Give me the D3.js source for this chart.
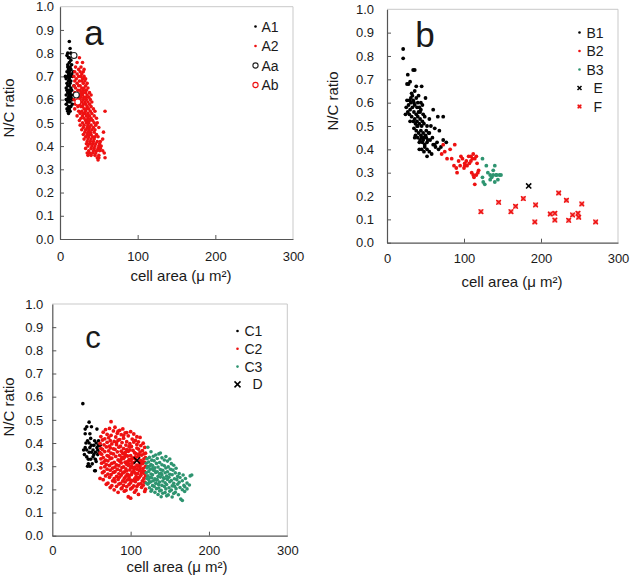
<!DOCTYPE html>
<html><head><meta charset="utf-8">
<script src="https://cdn.jsdelivr.net/npm/d3@7"></script>
<style>body{margin:0;background:#fff}svg text{font-family:"Liberation Sans",Arial,sans-serif;fill:#1a1a1a}</style>
</head><body><svg id="c" width="630" height="577"></svg>
<script>
const yTicks=[0,0.1,0.2,0.3,0.4,0.5,0.6,0.7,0.8,0.9,1.0];
const xTicks=[0,100,200,300];
const colBlack="#000000", colRed="#ee1111", colGreen="#2e9470";

// Panel a
const A1=[[12,0.85],[10,0.80],[13,0.82],[9,0.79],[11,0.78],[14,0.77],[12,0.76],[15,0.75],[10,0.75],[13,0.74],[11,0.73],[14,0.73],[12,0.72],[9,0.72],[15,0.71],[11,0.71],[13,0.70],[10,0.70],[8,0.69],[12,0.69],[14,0.68],[11,0.68],[9,0.67],[13,0.67],[10,0.66],[12,0.66],[8,0.65],[14,0.65],[11,0.64],[9,0.64],[13,0.63],[10,0.63],[12,0.62],[15,0.62],[8,0.62],[11,0.61],[14,0.61],[9,0.60],[12,0.60],[10,0.59],[13,0.59],[16,0.58],[8,0.58],[11,0.57],[14,0.57],[9,0.56],[12,0.56],[10,0.55],[13,0.55],[11,0.54],[15,0.64],[16,0.70],[17,0.72],[7,0.70],[8,0.60],[18,0.66],[16,0.60],[10,0.74],[12,0.78],[14,0.80]];
const A2=[[25,0.78],[22,0.76],[29,0.76],[20,0.74],[27,0.74],[24,0.73],[31,0.73],[19,0.72],[26,0.72],[30,0.72],[22,0.71],[28,0.71],[18,0.70],[24,0.70],[31,0.70],[27,0.70],[21,0.69],[29,0.69],[33,0.69],[19,0.68],[25,0.68],[32,0.68],[28,0.68],[22,0.67],[30,0.67],[35,0.67],[18,0.66],[26,0.66],[33,0.66],[24,0.66],[20,0.65],[28,0.65],[36,0.65],[31,0.65],[23,0.64],[30,0.64],[34,0.64],[26,0.64],[19,0.63],[27,0.63],[33,0.63],[38,0.63],[30,0.63],[21,0.62],[25,0.62],[35,0.62],[29,0.62],[40,0.62],[23,0.61],[31,0.61],[37,0.61],[27,0.61],[33,0.61],[18,0.60],[26,0.60],[34,0.60],[30,0.60],[39,0.60],[22,0.59],[28,0.59],[36,0.59],[32,0.59],[41,0.59],[20,0.58],[25,0.58],[33,0.58],[38,0.58],[30,0.58],[23,0.57],[29,0.57],[35,0.57],[40,0.57],[27,0.57],[19,0.56],[31,0.56],[37,0.56],[34,0.56],[43,0.56],[24,0.55],[28,0.55],[33,0.55],[39,0.55],[45,0.55],[58,0.55],[26,0.54],[30,0.54],[36,0.54],[41,0.54],[32,0.54],[22,0.53],[29,0.53],[34,0.53],[38,0.53],[44,0.53],[27,0.52],[31,0.52],[36,0.52],[40,0.52],[47,0.52],[25,0.51],[33,0.51],[38,0.51],[42,0.51],[35,0.51],[29,0.50],[34,0.50],[37,0.50],[44,0.50],[48,0.50],[26,0.49],[31,0.49],[36,0.49],[40,0.49],[46,0.49],[30,0.48],[35,0.48],[38,0.48],[43,0.48],[50,0.48],[28,0.47],[33,0.47],[37,0.47],[41,0.47],[45,0.47],[32,0.46],[36,0.46],[39,0.46],[44,0.46],[56,0.46],[30,0.45],[35,0.45],[40,0.45],[47,0.45],[38,0.45],[33,0.44],[37,0.44],[42,0.44],[45,0.44],[49,0.44],[31,0.43],[36,0.43],[40,0.43],[44,0.43],[55,0.43],[35,0.42],[39,0.42],[43,0.42],[48,0.42],[52,0.42],[34,0.41],[38,0.41],[42,0.41],[46,0.41],[51,0.41],[36,0.40],[41,0.40],[45,0.40],[50,0.40],[53,0.40],[33,0.39],[40,0.39],[44,0.39],[49,0.39],[52,0.39],[37,0.38],[43,0.38],[47,0.38],[51,0.38],[55,0.38],[35,0.37],[38,0.37],[42,0.37],[46,0.37],[57,0.37],[36,0.36],[40,0.36],[45,0.36],[50,0.36],[48,0.35],[50,0.35],[58,0.35],[49,0.34]];
const Aa=[[18,0.79],[21,0.62]];
const Ab=[[23,0.59]];

// Panel b
const B1=[[21,0.83],[21,0.79],[34,0.74],[36,0.74],[27,0.72],[30,0.69],[26,0.68],[28,0.68],[38,0.67],[45,0.67],[32,0.64],[36,0.65],[50,0.62],[26,0.61],[29,0.61],[31,0.60],[34,0.61],[38,0.62],[41,0.63],[44,0.60],[28,0.59],[33,0.58],[36,0.59],[39,0.58],[42,0.58],[46,0.59],[24,0.55],[27,0.56],[30,0.57],[35,0.56],[38,0.55],[41,0.56],[44,0.57],[47,0.55],[60,0.57],[29,0.55],[32,0.54],[36,0.53],[40,0.54],[43,0.53],[46,0.52],[49,0.54],[55,0.53],[73,0.54],[66,0.54],[34,0.52],[37,0.51],[40,0.50],[42,0.51],[45,0.50],[48,0.51],[52,0.50],[57,0.50],[62,0.49],[35,0.49],[38,0.48],[41,0.47],[44,0.48],[47,0.47],[51,0.48],[54,0.47],[68,0.48],[37,0.46],[40,0.45],[43,0.44],[45,0.45],[48,0.45],[50,0.46],[53,0.44],[36,0.45],[42,0.43],[46,0.43],[49,0.42],[52,0.43],[56,0.44],[59,0.45],[62,0.42],[65,0.43],[73,0.44],[77,0.43],[45,0.40],[49,0.41],[52,0.40],[55,0.39],[60,0.42],[67,0.40],[52,0.37],[58,0.38],[39,0.52],[43,0.56],[31,0.62],[25,0.58],[44,0.46],[47,0.44],[39,0.50],[33,0.63],[51,0.45],[55,0.47],[63,0.41],[48,0.39],[70,0.41],[35,0.60],[40,0.60],[30,0.52],[42,0.40]];
const B2=[[71,0.38],[73,0.42],[82,0.40],[88,0.42],[78,0.36],[84,0.36],[87,0.33],[91,0.30],[93,0.35],[96,0.37],[98,0.36],[101,0.34],[103,0.35],[106,0.37],[109,0.37],[111,0.36],[112,0.38],[116,0.37],[109,0.35],[101,0.33],[104,0.33],[110,0.30],[112,0.29],[116,0.29],[114,0.25],[119,0.31],[117,0.34],[95,0.33],[100,0.32],[90,0.32],[113,0.28],[107,0.34],[114,0.36],[118,0.30],[75,0.39]];
const B3=[[124,0.36],[129,0.33],[140,0.33],[138,0.31],[146,0.29],[142,0.29],[138,0.29],[134,0.29],[124,0.28],[125,0.26],[127,0.25],[134,0.27],[140,0.26],[136,0.28],[142,0.29],[131,0.30],[148,0.29],[144,0.27]];
const E=[[184,0.243]];
const F=[[122,0.133],[145,0.173],[161,0.133],[167,0.156],[177,0.189],[193,0.162],[192,0.089],[212,0.123],[218,0.126],[218,0.097],[223,0.213],[233,0.182],[236,0.096],[241,0.119],[248,0.126],[249,0.109],[253,0.166],[271,0.089]];

// Panel c
const C1=[[39,0.57],[47,0.49],[44,0.47],[50,0.47],[57,0.46],[42,0.46],[42,0.44],[48,0.44],[45,0.41],[49,0.42],[54,0.41],[59,0.41],[61,0.39],[40,0.37],[44,0.37],[52,0.37],[57,0.38],[47,0.36],[52,0.34],[46,0.33],[55,0.33],[45,0.30],[55,0.28],[46,0.31],[54,0.28],[58,0.35],[60,0.36],[50,0.39],[43,0.40],[56,0.40],[48,0.38],[53,0.39],[41,0.35],[49,0.33],[51,0.31],[58,0.37],[44,0.34],[50,0.36],[47,0.40],[55,0.36],[59,0.39],[42,0.38],[53,0.35],[48,0.30],[56,0.32]];
const C2=[[75,0.492],[80,0.468],[68,0.458],[73,0.463],[86,0.455],[90,0.461],[65,0.447],[78,0.452],[95,0.445],[100,0.449],[84,0.451],[70,0.437],[83,0.442],[88,0.436],[93,0.444],[104,0.439],[62,0.428],[75,0.433],[81,0.426],[97,0.431],[108,0.427],[91,0.433],[67,0.418],[72,0.423],[86,0.415],[91,0.421],[102,0.417],[112,0.424],[64,0.413],[79,0.407],[84,0.412],[95,0.406],[106,0.411],[110,0.405],[74,0.41],[61,0.398],[70,0.403],[76,0.396],[89,0.402],[99,0.397],[104,0.404],[116,0.399],[82,0.401],[66,0.392],[73,0.387],[82,0.393],[87,0.386],[94,0.391],[101,0.385],[113,0.389],[108,0.394],[62,0.377],[69,0.383],[78,0.375],[85,0.382],[91,0.376],[98,0.384],[108,0.378],[118,0.381],[74,0.379],[64,0.372],[72,0.366],[80,0.373],[88,0.365],[95,0.371],[103,0.368],[110,0.374],[115,0.367],[99,0.37],[61,0.357],[67,0.363],[75,0.356],[83,0.362],[90,0.355],[97,0.364],[105,0.358],[112,0.361],[119,0.356],[93,0.36],[63,0.352],[70,0.346],[78,0.353],[86,0.347],[93,0.351],[100,0.345],[107,0.354],[114,0.348],[117,0.353],[110,0.35],[65,0.337],[72,0.343],[76,0.335],[81,0.342],[89,0.338],[96,0.344],[103,0.336],[110,0.341],[119,0.337],[106,0.34],[92,0.34],[62,0.332],[68,0.326],[74,0.333],[84,0.327],[91,0.334],[98,0.328],[106,0.331],[113,0.325],[117,0.332],[101,0.33],[88,0.33],[66,0.318],[71,0.323],[79,0.316],[86,0.322],[93,0.317],[100,0.324],[104,0.315],[111,0.321],[118,0.316],[96,0.32],[115,0.32],[63,0.313],[69,0.307],[76,0.312],[82,0.306],[88,0.314],[95,0.308],[102,0.313],[108,0.305],[115,0.311],[98,0.31],[112,0.31],[67,0.298],[73,0.303],[80,0.296],[85,0.302],[91,0.297],[97,0.304],[105,0.296],[112,0.301],[119,0.298],[101,0.3],[109,0.3],[62,0.293],[70,0.287],[77,0.292],[83,0.286],[89,0.294],[94,0.288],[100,0.293],[108,0.287],[116,0.291],[104,0.29],[112,0.29],[66,0.277],[74,0.283],[80,0.276],[87,0.282],[92,0.275],[99,0.284],[104,0.277],[111,0.281],[118,0.276],[95,0.28],[115,0.28],[64,0.272],[71,0.266],[78,0.273],[85,0.267],[90,0.271],[96,0.265],[102,0.274],[109,0.268],[114,0.272],[106,0.27],[117,0.27],[68,0.258],[75,0.263],[82,0.256],[88,0.262],[94,0.257],[101,0.264],[107,0.255],[113,0.261],[119,0.258],[98,0.26],[61,0.247],[73,0.252],[79,0.246],[86,0.253],[92,0.248],[98,0.251],[105,0.245],[111,0.252],[117,0.247],[108,0.25],[65,0.242],[77,0.237],[84,0.243],[90,0.236],[96,0.241],[103,0.238],[109,0.244],[115,0.237],[100,0.24],[71,0.227],[80,0.233],[87,0.226],[93,0.232],[100,0.228],[106,0.234],[113,0.225],[118,0.231],[69,0.222],[76,0.216],[85,0.223],[91,0.217],[98,0.221],[104,0.215],[110,0.222],[116,0.218],[74,0.208],[82,0.213],[89,0.206],[95,0.212],[102,0.207],[108,0.213],[114,0.209],[79,0.198],[88,0.203],[94,0.196],[100,0.202],[107,0.197],[119,0.201],[84,0.187],[92,0.192],[105,0.188],[118,0.191],[110,0.178],[97,0.168],[100,0.162]];
const C3=[[122,0.382],[126,0.362],[138,0.357],[132,0.348],[136,0.353],[124,0.338],[129,0.343],[140,0.336],[145,0.342],[121,0.332],[127,0.326],[134,0.333],[143,0.327],[150,0.331],[123,0.318],[130,0.323],[137,0.316],[147,0.322],[120,0.313],[126,0.307],[133,0.312],[140,0.306],[152,0.311],[122,0.298],[128,0.303],[135,0.296],[143,0.302],[148,0.297],[155,0.304],[121,0.292],[125,0.287],[131,0.293],[138,0.286],[145,0.292],[151,0.287],[158,0.291],[123,0.277],[129,0.283],[134,0.276],[141,0.282],[147,0.276],[154,0.283],[120,0.272],[126,0.266],[132,0.273],[137,0.267],[144,0.272],[150,0.265],[157,0.271],[162,0.268],[122,0.258],[128,0.263],[135,0.256],[140,0.262],[146,0.257],[153,0.263],[160,0.256],[167,0.262],[176,0.258],[121,0.247],[125,0.252],[131,0.246],[138,0.253],[143,0.247],[149,0.252],[156,0.246],[163,0.251],[170,0.247],[178,0.262],[123,0.243],[129,0.237],[134,0.242],[141,0.236],[147,0.243],[152,0.238],[159,0.242],[166,0.237],[120,0.227],[126,0.233],[132,0.226],[137,0.232],[144,0.228],[150,0.233],[155,0.226],[162,0.231],[172,0.227],[122,0.222],[128,0.216],[135,0.223],[140,0.217],[146,0.221],[153,0.215],[160,0.222],[168,0.217],[175,0.219],[124,0.207],[130,0.213],[136,0.206],[143,0.212],[149,0.207],[156,0.213],[163,0.208],[169,0.212],[127,0.198],[133,0.203],[139,0.196],[145,0.202],[152,0.197],[158,0.203],[166,0.198],[172,0.202],[126,0.192],[131,0.187],[137,0.193],[144,0.186],[150,0.192],[157,0.187],[169,0.191],[135,0.178],[141,0.183],[148,0.176],[155,0.182],[161,0.177],[139,0.168],[146,0.172],[153,0.167],[164,0.158],[166,0.152],[124,0.30],[128,0.29],[131,0.28],[127,0.25],[133,0.24],[124,0.23],[139,0.27],[142,0.25],[136,0.22]];
const D=[[108,0.325]];

const svg=d3.select("#c");

function drawMarker(g,type,cx,cy,color,size){
  if(type==="dot"){g.append("circle").attr("cx",cx).attr("cy",cy).attr("r",size).attr("fill",color);}
  else if(type==="ring"){g.append("circle").attr("cx",cx).attr("cy",cy).attr("r",size).attr("fill","#fff").attr("stroke",color).attr("stroke-width",1.1);}
  else if(type==="cross"){const s=size;g.append("path").attr("d",`M${cx-s},${cy-s}L${cx+s},${cy+s}M${cx-s},${cy+s}L${cx+s},${cy-s}`).attr("stroke",color).attr("stroke-width",1.5).attr("fill","none");}
  else if(type==="boxcross"){const s=size;g.append("rect").attr("x",cx-s).attr("y",cy-s).attr("width",2*s).attr("height",2*s).attr("fill",color).attr("opacity",0.55);
    g.append("path").attr("d",`M${cx-s},${cy-s}L${cx+s},${cy+s}M${cx-s},${cy+s}L${cx+s},${cy-s}`).attr("stroke",color).attr("stroke-width",1.3).attr("fill","none");}
}

function panel(p){
  const x=d3.scaleLinear().domain([0,300]).range([p.l,p.r]);
  const y=d3.scaleLinear().domain([0,1]).range([p.b,p.t]);
  const g=svg.append("g");
  g.append("path").attr("d",`M${p.l},${p.t}H${p.r}V${p.b}`).attr("fill","none").attr("stroke","#c9c9c9").attr("stroke-width",1);
  const ya=g.append("g").attr("transform",`translate(${p.l},0)`)
    .call(d3.axisLeft(y).tickValues(yTicks).tickSize(-4).tickSizeOuter(0).tickPadding(p.ypad).tickFormat(d3.format(".1f")));
  const xa=g.append("g").attr("transform",`translate(0,${p.b})`)
    .call(d3.axisBottom(x).tickValues(xTicks).tickSize(-4).tickSizeOuter(0).tickPadding(p.xpad).tickFormat(d3.format("d")));
  [ya,xa].forEach(a=>{a.select(".domain").attr("stroke","#555").attr("stroke-width",1.2);
    a.selectAll(".tick line").attr("stroke","#555");
    a.selectAll("text").attr("font-size",13).attr("font-family","Liberation Sans, Arial, sans-serif").attr("fill","#1a1a1a");});
  ya.selectAll(".tick").filter(d=>d===1).select("line").remove();
  xa.selectAll(".tick").filter(d=>d===0||d===300).select("line").remove();
  g.append("text").attr("transform",`translate(${p.ytx},${p.yty}) rotate(-90)`).attr("text-anchor","middle").attr("font-size",15).text("N/C ratio");
  g.append("text").attr("x",p.xtx).attr("y",p.xty).attr("text-anchor","middle").attr("font-size",15).text("cell area (μ m²)");
  g.append("text").attr("x",p.lx).attr("y",p.ly).attr("text-anchor","middle").attr("font-size",p.lfs).text(p.letter);
  p.series.forEach(s=>{
    const sg=g.append("g");
    s.data.forEach(d=>drawMarker(sg,s.type,x(d[0]),y(d[1]),s.color,s.size));
  });
  p.series.forEach((s,i)=>{
    const ly=p.legY+i*p.legStep;
    drawMarker(g,s.type,p.legX,ly,s.color,s.legSize);
    g.append("text").attr("x",p.legX+(s.type==="cross"||s.type==="boxcross"?p.legTx2:p.legTx)).attr("y",ly).attr("dy","0.36em").attr("font-size",14).text(s.name);
  });
}

panel({l:60,r:293,t:6.7,b:239,ypad:6,xpad:13,ytx:14,yty:108,xtx:181,xty:281,lx:94,ly:45,lfs:35,letter:"a",
  legX:255.5,legY:26.5,legStep:19.5,legTx:6,legTx2:13,
  series:[{name:"A1",data:A1,type:"dot",color:colBlack,size:1.8,legSize:1.3},
          {name:"A2",data:A2,type:"dot",color:colRed,size:1.8,legSize:1.3},
          {name:"Aa",data:Aa,type:"ring",color:"#222",size:3,legSize:2.6},
          {name:"Ab",data:Ab,type:"ring",color:colRed,size:3,legSize:2.6}]});

panel({l:387,r:618,t:9.3,b:242.7,ypad:13,xpad:11,ytx:338,yty:101,xtx:512,xty:287,lx:425,ly:46.5,lfs:35,letter:"b",
  legX:579.5,legY:32.5,legStep:18.5,legTx:7,legTx2:14,
  series:[{name:"B1",data:B1,type:"dot",color:colBlack,size:1.9,legSize:1.3},
          {name:"B2",data:B2,type:"dot",color:colRed,size:1.9,legSize:1.3},
          {name:"B3",data:B3,type:"dot",color:colGreen,size:1.9,legSize:1.3},
          {name:"E",data:E,type:"cross",color:colBlack,size:2.6,legSize:2},
          {name:"F",data:F,type:"boxcross",color:colRed,size:2.3,legSize:1.8}]});

panel({l:52.3,r:287.3,t:304,b:535.7,ypad:9,xpad:10,ytx:14,yty:407,xtx:177,xty:572,lx:93,ly:348,lfs:31,letter:"c",
  legX:237.5,legY:331,legStep:17.8,legTx:7,legTx2:15,
  series:[{name:"C1",data:C1,type:"dot",color:colBlack,size:1.8,legSize:1.3},
          {name:"C2",data:C2,type:"dot",color:colRed,size:1.9,legSize:1.3},
          {name:"C3",data:C3,type:"dot",color:colGreen,size:1.8,legSize:1.3},
          {name:"D",data:D,type:"cross",color:colBlack,size:3.2,legSize:3}]});
</script></body></html>
